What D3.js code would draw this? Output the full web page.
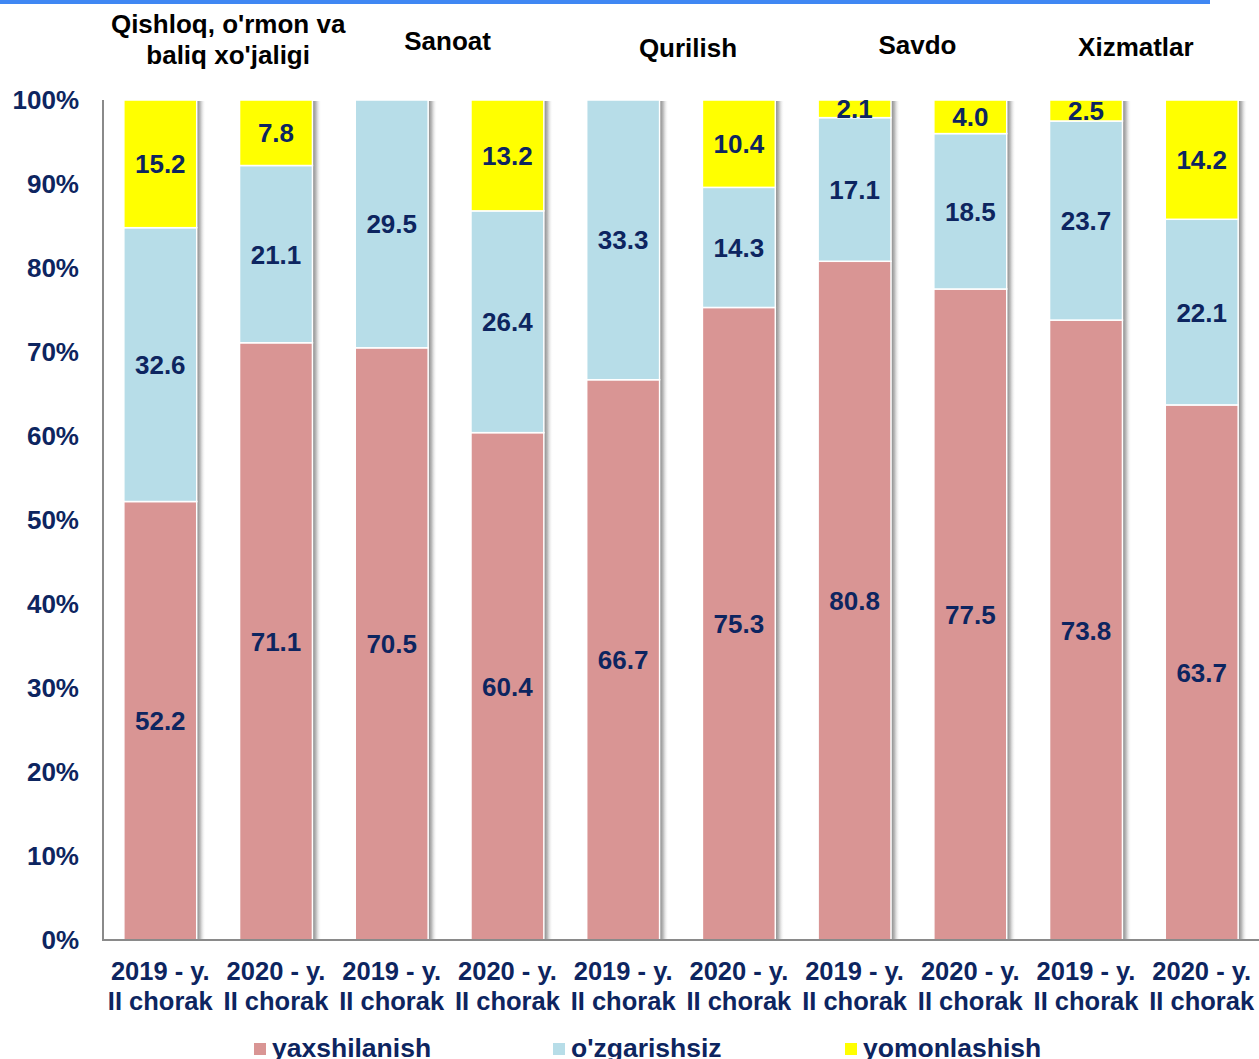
<!DOCTYPE html>
<html>
<head>
<meta charset="utf-8">
<script src="https://cdn.jsdelivr.net/npm/d3@7"></script>
<style>
  body { margin: 0; background: #fff; }
  text { font-family: "Liberation Sans", Arial, sans-serif; font-weight: bold; }
</style>
</head>
<body>
<svg class="chart"></svg>
<script>
var W = 1259, H = 1059;

// data
var years = ["2019 - y.", "2020 - y.", "2019 - y.", "2020 - y.", "2019 - y.", "2020 - y.", "2019 - y.", "2020 - y.", "2019 - y.", "2020 - y."];
var quarter = "II chorak";
var groups = ["Qishloq, o'rmon va|baliq xo'jaligi", "Sanoat", "Qurilish", "Savdo", "Xizmatlar"];
var yaxshilanish = [52.2, 71.1, 70.5, 60.4, 66.7, 75.3, 80.8, 77.5, 73.8, 63.7];
var ozgarishsiz  = [32.6, 21.1, 29.5, 26.4, 33.3, 14.3, 17.1, 18.5, 23.7, 22.1];
var yomonlashish = [15.2, 7.8, 0, 13.2, 0, 10.4, 2.1, 4.0, 2.5, 14.2];
var seriesNames = ["yaxshilanish", "o'zgarishsiz", "yomonlashish"];
var yTicks = [0, 10, 20, 30, 40, 50, 60, 70, 80, 90, 100];

var colors = ["#d99594", "#b7dde8", "#ffff00"];
var navy = "#0d2560";

var rows = years.map(function(y, i) {
  return { i: i, a: yaxshilanish[i], b: ozgarishsiz[i], c: yomonlashish[i] };
});

var svg = d3.select(".chart").attr("width", W).attr("height", H);

// blue strip at the very top
svg.append("rect").attr("x", 0).attr("y", 0).attr("width", 1210).attr("height", 4).attr("fill", "#3f87f3");

var x = d3.scaleBand().domain(d3.range(10)).range([103, 1259]).paddingInner(0.37).paddingOuter(0.18);
var y = d3.scaleLinear().domain([0, 100]).range([940, 100]);

var defs = svg.append("defs");
var grad = defs.append("linearGradient").attr("id", "shadow").attr("x1", "0").attr("x2", "1").attr("y1", "0").attr("y2", "0");
grad.append("stop").attr("offset", "0").attr("stop-color", "#858585");
grad.append("stop").attr("offset", "0.4").attr("stop-color", "#bdbdbd");
grad.append("stop").attr("offset", "1").attr("stop-color", "#ffffff").attr("stop-opacity", 0);

// bar shadows
svg.append("g").selectAll("rect").data(rows).enter().append("rect")
  .attr("x", function(d) { return x(d.i) + x.bandwidth(); })
  .attr("y", y(100) + 1)
  .attr("width", 9)
  .attr("height", y(0) - y(100) - 1)
  .attr("fill", "url(#shadow)");

var stack = d3.stack().keys(["a", "b", "c"]);
var layers = stack(rows);

var layer = svg.append("g").selectAll("g").data(layers).enter().append("g")
  .attr("fill", function(d, k) { return colors[k]; });

layer.selectAll("rect").data(function(d) { return d; }).enter().append("rect")
  .attr("x", function(d) { return x(d.data.i); })
  .attr("y", function(d) { return y(d[1]); })
  .attr("width", x.bandwidth())
  .attr("height", function(d) { return Math.max(0, y(d[0]) - y(d[1])); })
  .attr("stroke", "#fff")
  .attr("stroke-width", 1.5);

// value labels
layer.selectAll("text").data(function(d) { return d.filter(function(p) { return p[1] - p[0] > 0; }); })
  .enter().append("text")
  .attr("x", function(d) { return x(d.data.i) + x.bandwidth() / 2; })
  .attr("y", function(d) { return (y(d[0]) + y(d[1])) / 2 + 9.5; })
  .attr("text-anchor", "middle")
  .attr("fill", navy)
  .style("font-size", "26px")
  .text(function(d) { return (d[1] - d[0]).toFixed(1); });

// axes
svg.append("line").attr("x1", 103).attr("x2", 103).attr("y1", y(100)).attr("y2", y(0))
  .attr("stroke", "#8a8a8a").attr("stroke-width", 2);
svg.append("line").attr("x1", 102).attr("x2", W).attr("y1", y(0)).attr("y2", y(0))
  .attr("stroke", "#8a8a8a").attr("stroke-width", 2);

svg.append("g").selectAll("text").data(yTicks).enter().append("text")
  .attr("x", 79)
  .attr("y", function(d) { return y(d) + 9; })
  .attr("text-anchor", "end")
  .attr("fill", navy)
  .style("font-size", "26px")
  .text(function(d) { return d + "%"; });

var xl = svg.append("g").selectAll("text").data(years).enter().append("text")
  .attr("text-anchor", "middle")
  .attr("fill", navy)
  .style("font-size", "25.5px");
xl.append("tspan").attr("x", function(d, i) { return x(i) + x.bandwidth() / 2; }).attr("y", 980).text(function(d) { return d; });
xl.append("tspan").attr("x", function(d, i) { return x(i) + x.bandwidth() / 2; }).attr("y", 1010).text(quarter);

// group titles above each pair of bars
var titleDx = [10, -2, 7, 5, -8];
var titleY = [33, 50, 57, 54, 56];
var tt = svg.append("g").selectAll("text").data(groups).enter().append("text")
  .attr("text-anchor", "middle")
  .attr("fill", "#000")
  .style("font-size", "26px")
  .attr("transform", function(d, g) {
    var cx = (x(g * 2) + x(g * 2 + 1) + x.bandwidth()) / 2 + titleDx[g];
    return "translate(" + cx + "," + titleY[g] + ")";
  });
tt.selectAll("tspan").data(function(d) { return d.split("|"); }).enter().append("tspan")
  .attr("x", 0).attr("y", function(d, k) { return k * 31; })
  .text(function(d) { return d; });

// legend
var legX = [254, 553, 845];
var leg = svg.append("g").selectAll("g").data(seriesNames).enter().append("g")
  .attr("transform", function(d, k) { return "translate(" + legX[k] + ",1043)"; });
leg.append("rect").attr("width", 12).attr("height", 12).attr("fill", function(d, k) { return colors[k]; });
leg.append("text").attr("x", 18).attr("y", 14).attr("fill", navy).style("font-size", "26.5px").text(function(d) { return d; });
</script>
</body>
</html>
